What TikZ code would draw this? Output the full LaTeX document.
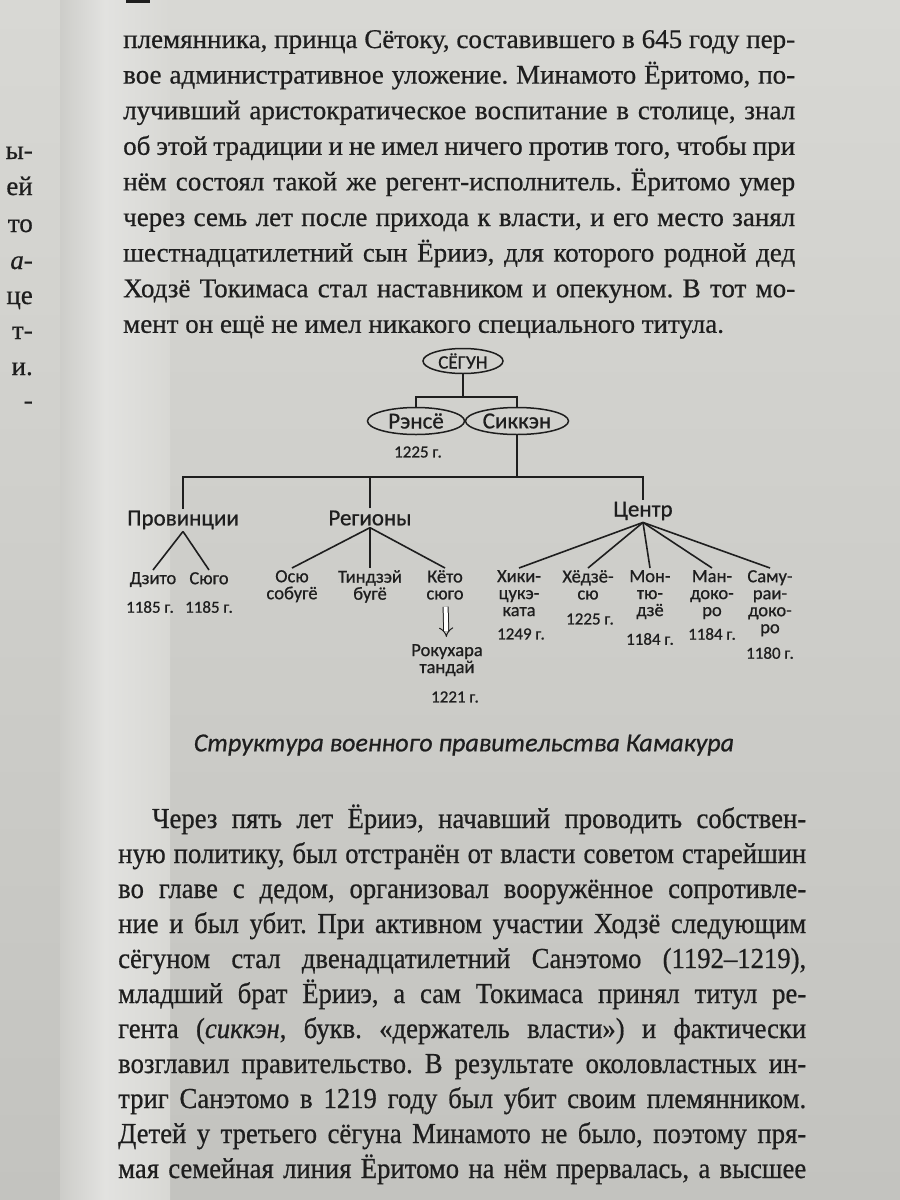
\documentclass[tikz,border=0pt]{standalone}
\usepackage{fontspec}
\setmainfont[FakeBold=0.6]{Liberation Serif}
\newfontfamily\schemefont[FakeBold=0.7]{Carlito}
\newfontfamily\narrowserif[FakeStretch=0.92,FakeBold=0.6]{Liberation Serif}
\usetikzlibrary{shapes.geometric,arrows.meta}
\frenchspacing

\definecolor{paper}{HTML}{CDCDC9}
\definecolor{paperlight}{HTML}{D8D8D4}
\definecolor{paperdark}{HTML}{C3C3BF}
\definecolor{gutter}{HTML}{E2E2E0}
\definecolor{ink}{HTML}{1E1E1E}

\newcommand{\jline}[1]{\makebox[672pt][s]{#1}}
\newcommand{\kline}[1]{\makebox[688pt][s]{#1}}

\tikzset{
  oval/.style={ellipse, draw=ink, line width=1.5pt, inner xsep=-6pt, inner ysep=-4pt, text=ink},
  level/.style={font=\schemefont\fontsize{23}{25}\selectfont, text=ink, inner sep=2pt},
  leaf/.style={font=\schemefont\fontsize{18.5}{17}\selectfont, align=center, text=ink, inner sep=2pt, anchor=north},
  year/.style={font=\schemefont\fontsize{17}{18}\selectfont, text=ink, inner sep=1pt},
  link/.style={draw=ink, line width=1.6pt},
  bodyline/.style={anchor=base west, inner sep=0pt, text=ink, font=\fontsize{27}{30}\selectfont},
  botline/.style={anchor=base west, inner sep=0pt, text=ink, font=\narrowserif\fontsize{29}{30}\selectfont},
}

\begin{document}
\begin{tikzpicture}[x=1pt,y=-1pt]
\useasboundingbox (0,0) rectangle (900,1200);

% paper and gutter
\shade[top color=paperlight, bottom color=paperdark] (0,0) rectangle (900,1200);
\shade[left color=paper, right color=gutter] (60,0) rectangle (105,1200);
\shade[left color=gutter, right color=paperlight] (105,0) rectangle (170,1200);
\fill[ink] (126,0) rectangle (150,3);

% end of the left page
\foreach \frag/\yy in {ы-/159, ей/195, то/232, \textit{а}-/269, це/304, т-/339, и./375, -/409}
  \node[bodyline, anchor=base east] at (33,\yy) {\frag};

% text above the scheme
\foreach \txt [count=\i from 0] in {
  {племянника, принца Сётоку, составившего в 645 году пер-},
  {вое административное уложение. Минамото Ёритомо, по-},
  {лучивший аристократическое воспитание в столице, знал},
  {об этой традиции и не имел ничего против того, чтобы при},
  {нём состоял такой же регент-исполнитель. Ёритомо умер},
  {через семь лет после прихода к власти, и его место занял},
  {шестнадцатилетний сын Ёрииэ, для которого родной дед},
  {Ходзё Токимаса стал наставником и опекуном. В тот мо-}}
  \node[bodyline] (top\i) at (123,{48+35.6*\i}) {\jline{\txt}};
\node[bodyline] (top8) at (123,{48+35.6*8}) {мент он ещё не имел никакого специального титула.};

% scheme
\node[oval, minimum width=80pt, minimum height=25pt, font=\schemefont\fontsize{19}{21}\selectfont] (shogun) at (463,361) {СЁГУН};
\node[oval, minimum width=97pt, minimum height=27pt, font=\schemefont\fontsize{23}{25}\selectfont] (rense) at (416,421) {Рэнсё};
\node[oval, minimum width=103pt, minimum height=27pt, font=\schemefont\fontsize{23}{25}\selectfont] (shikken) at (517,421) {Сиккэн};
\node[year] (rensey) at (418,452) {1225 г.};

\coordinate (fork) at (463,397);
\coordinate (hub) at (517,477);
\draw[link] (shogun) -- (fork);
\draw[link] (rense.north) -- (rense.north |- fork) -- (shikken.north |- fork) -- (shikken.north);
\draw[link] (shikken) -- (hub);

\node[level] (prov) at (183,520) {Провинции};
\node[level] (reg) at (370,518) {Регионы};
\node[level] (centr) at (643,511) {Центр};
\draw[link] (prov.north) |- (centr.north |- hub) -- (centr.north);
\draw[link] (reg.north) -- (reg.north |- hub);

\node[leaf] (dzito) at (153,570) {Дзито};
\node[leaf] (syugo) at (209,570) {Сюго};
\node[leaf] (osyu) at (292,568) {Осю\\собугё};
\node[leaf] (tindzei) at (370,568) {Тиндзэй\\бугё};
\node[leaf] (kyoto) at (445,568) {Кёто\\сюго};
\node[leaf] (hiki) at (519,568) {Хики-\\цукэ-\\ката};
\node[leaf] (hyodzyo) at (588,568) {Хёдзё-\\сю};
\node[leaf] (mon) at (650,568) {Мон-\\тю-\\дзё};
\node[leaf] (man) at (712,568) {Ман-\\доко-\\ро};
\node[leaf] (samu) at (770,568) {Саму-\\раи-\\доко-\\ро};
\node[leaf] (rokuhara) at (447,642) {Рокухара\\тандай};

\foreach \leaf in {dzito, syugo}
  \draw[link] (prov.south) -- (\leaf.north);
\foreach \leaf in {osyu, tindzei, kyoto}
  \draw[link] (reg.south) -- (\leaf.north);
\foreach \leaf in {hiki, hyodzyo, mon, man, samu}
  \draw[link] (centr.south) -- (\leaf.north);
\draw[ink, line width=1pt, double, double distance=4pt, -{Implies[scale=1.5]}, shorten <=5pt, shorten >=5pt] (kyoto) -- (rokuhara);

\node[year] (dzitoy) at (150,607) {1185 г.};
\node[year] (syugoy) at (209,607) {1185 г.};
\node[year] (rokuharay) at (455,697) {1221 г.};
\node[year] (hikiy) at (521,634) {1249 г.};
\node[year] (hyodzyoy) at (590,619) {1225 г.};
\node[year] (mony) at (650,639) {1184 г.};
\node[year] (many) at (712,634) {1184 г.};
\node[year] (samuy) at (770,653) {1180 г.};

\node[font=\schemefont\itshape\fontsize{26}{30}\selectfont, text=ink] (caption) at (464,745) {Структура военного правительства Камакура};

% text below the scheme
\node[botline] (bot0) at (152,828) {\makebox[654pt][s]{Через пять лет Ёрииэ, начавший проводить собствен-}};
\foreach \txt [count=\i] in {
  {ную политику, был отстранён от власти советом старейшин},
  {во главе с дедом, организовал вооружённое сопротивле-},
  {ние и был убит. При активном участии Ходзё следующим},
  {сёгуном стал двенадцатилетний Санэтомо (1192–1219),},
  {младший брат Ёрииэ, а сам Токимаса принял титул ре-},
  {гента (\textit{сиккэн}, букв. «держатель власти») и фактически},
  {возглавил правительство. В результате околовластных ин-},
  {триг Санэтомо в 1219 году был убит своим племянником.},
  {Детей у третьего сёгуна Минамото не было, поэтому пря-},
  {мая семейная линия Ёритомо на нём прервалась, а высшее}}
  \node[botline] (bot\i) at (118,{828+35*\i}) {\kline{\txt}};
\end{tikzpicture}
\end{document}
